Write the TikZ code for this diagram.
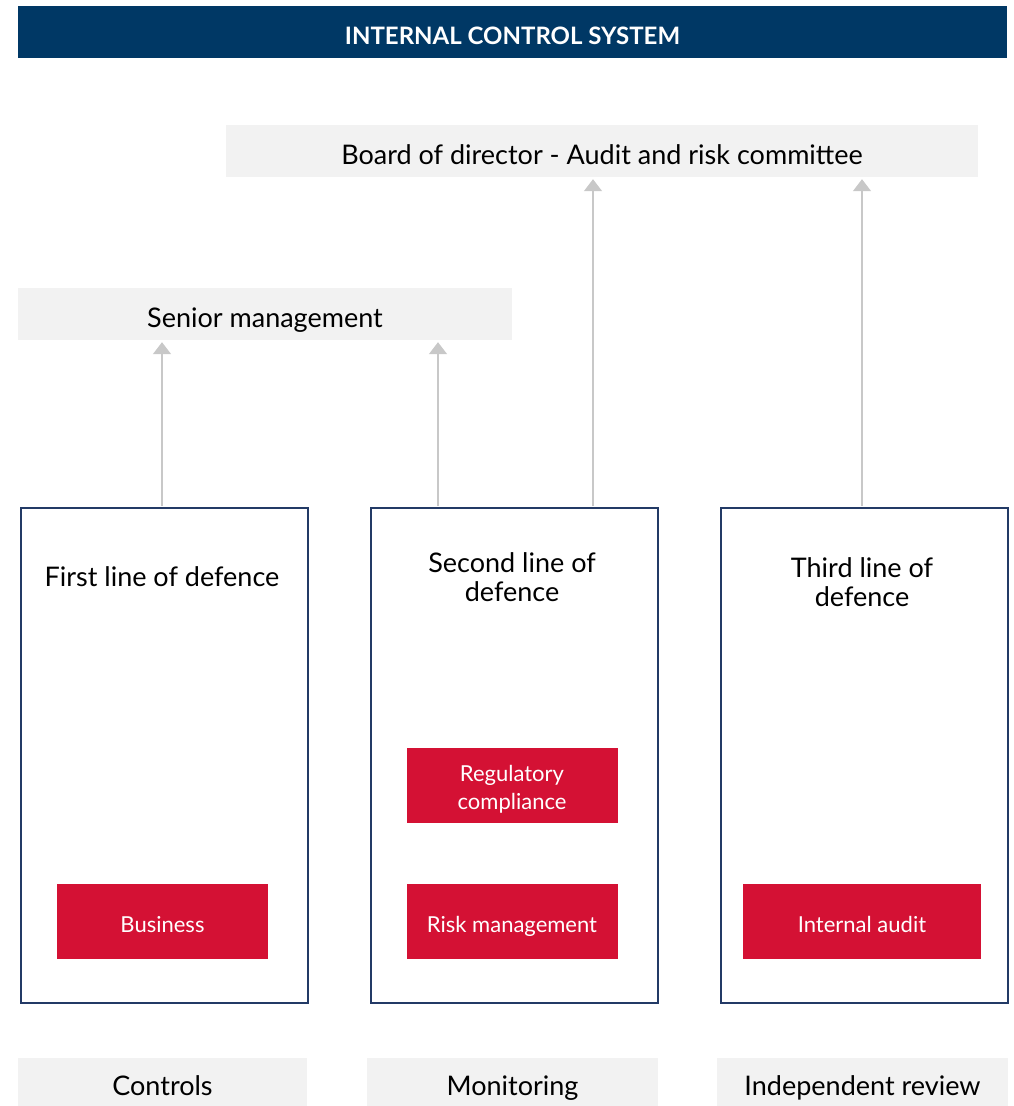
\documentclass[tikz,border=0pt]{standalone}
\usepackage{fontspec}
\setmainfont{Lato}
\usetikzlibrary{arrows.meta}
\definecolor{navy}{HTML}{003865}
\definecolor{boxline}{HTML}{233A66}
\definecolor{lightbg}{HTML}{F2F2F2}
\definecolor{redbox}{HTML}{D41134}
\definecolor{arrowgray}{HTML}{C8C8C8}
\tikzset{
  banner/.style={fill=navy, text=white, inner sep=0pt, minimum width=989pt, minimum height=52pt, text height=25pt, text depth=0pt, font=\fontsize{24}{28}\selectfont\bfseries},
  greybox/.style={fill=lightbg, inner sep=0pt, text height=26pt, text depth=0pt, font=\fontsize{27}{32}\selectfont},
  linebox/.style={draw=boxline, line width=2pt, inner sep=0pt, minimum width=287pt, minimum height=495pt},
  title/.style={align=center, font=\fontsize{27}{29}\selectfont, inner sep=0pt},
  redcell/.style={fill=redbox, text=white, align=center, inner sep=0pt, minimum height=75pt, font=\fontsize{22}{28}\selectfont},
  onecell/.style={redcell, text height=21pt, text depth=0pt},
  uparrow/.style={draw=arrowgray, line width=1.5pt, -{Triangle[width=18pt,length=12pt]}, shorten >=2pt}
}
\begin{document}
\begin{tikzpicture}[x=1pt,y=-1pt]
\useasboundingbox (0,0) rectangle (1013,1106);
\node[banner] (ics) at (512.5,32) {INTERNAL CONTROL SYSTEM};
\node[greybox, minimum width=752pt, minimum height=52pt] (board) at (602,151) {Board of director - Audit and risk committee};
\node[greybox, minimum width=494pt, minimum height=52pt] (senior) at (265,314) {Senior management};

\node[linebox] (first) at (164,755) {};
\node[linebox] (second) at (514.5,755) {};
\node[linebox] (third) at (864,755) {};

\node[title] (t1) at (162,577) {First line of defence};
\node[title] (t2) at (512,577) {Second line of\\defence};
\node[title] (t3) at (862,582) {Third line of\\defence};

\node[onecell, minimum width=211pt] (business) at (162.5,921.5) {Business};
\node[redcell, minimum width=211pt, minimum height=75pt] (regcomp) at (512,785.5) {};
\node[align=center, text=white, inner sep=0pt, font=\fontsize{22}{28}\selectfont] (regtext) at (512,789.5) {Regulatory\\compliance};
\node[onecell, minimum width=211pt] (riskmgmt) at (512,921.5) {Risk management};
\node[onecell, minimum width=238pt] (intaudit) at (862,921.5) {Internal audit};

\node[greybox, minimum width=289pt, minimum height=48pt, text height=27pt] (controls) at (162.5,1082) {Controls};
\node[greybox, minimum width=291pt, minimum height=48pt, text height=27pt] (monitoring) at (512.5,1082) {Monitoring};
\node[greybox, minimum width=291pt, minimum height=48pt, text height=27pt] (review) at (862.5,1082) {Independent review};

\coordinate (a1) at (162,506);
\coordinate (a2) at (438,506);
\coordinate (a3) at (593,506);
\coordinate (a4) at (862,506);
\draw[uparrow] (a1) -- (a1 |- senior.south);
\draw[uparrow] (a2) -- (a2 |- senior.south);
\draw[uparrow] (a3) -- (a3 |- board.south);
\draw[uparrow] (a4) -- (a4 |- board.south);
\end{tikzpicture}
\end{document}
